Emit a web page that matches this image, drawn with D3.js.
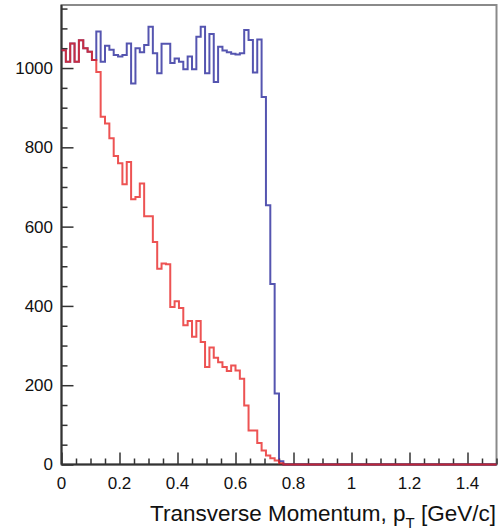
<!DOCTYPE html>
<html>
<head>
<meta charset="utf-8">
<script src="https://cdn.jsdelivr.net/npm/d3@7"></script>
<style>
  html, body { margin: 0; padding: 0; background: #fff; }
  svg { display: block; font-family: "Liberation Sans", Arial, Helvetica, sans-serif; }
</style>
</head>
<body>
<script>
"use strict";
(function(){
    // histogram binning: 100 bins from 0 to 1.5 GeV/c
    const nBins = 100
    const xLow = 0
    const xHigh = 1.5

    // counts per bin
    const blueCounts = [
        1045, 1016, 1062, 1016, 1070, 1050, 1041, 1020, 1092, 1016,
        1056, 1046, 1033, 1029, 1033, 1062, 961, 1050, 1040, 1058,
        1104, 1037, 987, 1061, 1061, 1013, 1024, 1016, 997, 1029,
        997, 1079, 1104, 987, 1086, 965, 1054, 1044, 1040, 1036,
        1034, 1037, 1096, 1071, 989, 1072, 927, 654, 455, 179,
        8, 0, 0, 0, 0, 0, 0, 0, 0, 0,
        0, 0, 0, 0, 0, 0, 0, 0, 0, 0,
        0, 0, 0, 0, 0, 0, 0, 0, 0, 0,
        0, 0, 0, 0, 0, 0, 0, 0, 0, 0,
        0, 0, 0, 0, 0, 0, 0, 0, 0, 0
    ]
    const redCounts = [
        1045, 1016, 1062, 1016, 1070, 1050, 1041, 1020, 990, 877,
        860, 823, 778, 760, 707, 763, 669, 675, 709, 626,
        626, 561, 494, 507, 505, 397, 412, 395, 351, 362,
        322, 362, 309, 246, 295, 269, 258, 246, 236, 250,
        237, 216, 149, 86, 86, 54, 35, 23, 16, 10,
        3, 0, 0, 0, 0, 0, 0, 0, 0, 0,
        0, 0, 0, 0, 0, 0, 0, 0, 0, 0,
        0, 0, 0, 0, 0, 0, 0, 0, 0, 0,
        0, 0, 0, 0, 0, 0, 0, 0, 0, 0,
        0, 0, 0, 0, 0, 0, 0, 0, 0, 0
    ]

    const xTicks = [0, 0.2, 0.4, 0.6, 0.8, 1, 1.2, 1.4]
    const xTickLabels = ["0", "0.2", "0.4", "0.6", "0.8", "1", "1.2", "1.4"]
    const yTicks = [0, 200, 400, 600, 800, 1000]
    const yTickLabels = ["0", "200", "400", "600", "800", "1000"]
    const yMax = 1159

    const measurements = {
        width: 498,
        height: 531,
        left: 61.5,
        right: 496.5,
        top: 5,
        bottom: 464.5
    }

    const svg = d3.select("body").append("svg")
        .attr("width", measurements.width)
        .attr("height", measurements.height)

    const scaleX = d3.scaleLinear()
        .domain([xLow, xHigh])
        .range([measurements.left, measurements.right])
    const scaleY = d3.scaleLinear()
        .domain([0, yMax])
        .range([measurements.bottom, measurements.top])

    // frame
    svg.append("rect")
        .attr("x", measurements.left)
        .attr("y", measurements.top)
        .attr("width", measurements.right - measurements.left)
        .attr("height", measurements.bottom - measurements.top)
        .attr("fill", "none")
        .attr("stroke", "#8a8a8a")
        .attr("stroke-width", 2)

    // axes (ticks point inwards, ROOT style)
    const xAxis = d3.axisBottom(scaleX)
        .tickValues(d3.range(0, 1.5001, 0.05))
        .tickSize(0)
        .tickFormat("")
    const gx = svg.append("g")
        .attr("transform", `translate(0, ${measurements.bottom})`)
        .call(xAxis)
    gx.select(".domain").remove()
    gx.selectAll(".tick line")
        .attr("y2", (d) => xTicks.some(t => Math.abs(t - d) < 1e-6) ? -12 : -6)
        .attr("stroke", "#333")
        .attr("stroke-width", 1.5)

    const yAxis = d3.axisLeft(scaleY)
        .tickValues(d3.range(0, 1151, 50))
        .tickSize(0)
        .tickFormat("")
    const gy = svg.append("g")
        .attr("transform", `translate(${measurements.left}, 0)`)
        .call(yAxis)
    gy.select(".domain").remove()
    gy.selectAll(".tick line")
        .attr("x2", (d) => d % 200 === 0 ? 12 : 6)
        .attr("stroke", "#333")
        .attr("stroke-width", 1.5)

    // axis lines
    svg.append("line")
        .attr("x1", measurements.left).attr("x2", measurements.left)
        .attr("y1", measurements.top).attr("y2", measurements.bottom)
        .attr("stroke", "#333").attr("stroke-width", 2)
    svg.append("line")
        .attr("x1", measurements.left).attr("x2", measurements.right)
        .attr("y1", measurements.bottom).attr("y2", measurements.bottom)
        .attr("stroke", "#333").attr("stroke-width", 2)

    // histograms, drawn over the axes
    const binWidth = (xHigh - xLow) / nBins
    function stepPoints(counts) {
        let pts = counts.map((c, i) => [xLow + i * binWidth, c])
        pts.push([xHigh, counts[counts.length - 1]])
        return pts
    }
    const line = d3.line()
        .x(d => scaleX(d[0]))
        .y(d => scaleY(d[1]))
        .curve(d3.curveStepAfter)

    svg.append("path")
        .attr("d", line(stepPoints(blueCounts)))
        .attr("fill", "none")
        .attr("stroke", "#2a2a9c")
        .attr("stroke-opacity", 0.8)
        .attr("stroke-width", 2)

    svg.append("path")
        .attr("d", line(stepPoints(redCounts)))
        .attr("fill", "none")
        .attr("stroke", "#e82222")
        .attr("stroke-opacity", 0.78)
        .attr("stroke-width", 2)

    // tick labels
    svg.selectAll(".xlab")
        .data(xTicks)
        .enter()
        .append("text")
        .attr("class", "xlab")
        .attr("x", d => scaleX(d))
        .attr("y", 489)
        .attr("text-anchor", "middle")
        .attr("font-size", 17)
        .attr("fill", "#111")
        .text((d, i) => xTickLabels[i])

    svg.selectAll(".ylab")
        .data(yTicks)
        .enter()
        .append("text")
        .attr("class", "ylab")
        .attr("x", 53)
        .attr("y", d => scaleY(d))
        .attr("dy", "0.35em")
        .attr("text-anchor", "end")
        .attr("font-size", 17)
        .attr("fill", "#111")
        .text((d, i) => yTickLabels[i])

    // axis title
    const title = svg.append("text")
        .attr("x", 496)
        .attr("y", 521)
        .attr("text-anchor", "end")
        .attr("font-size", 22.5)
        .attr("fill", "#111")
    title.append("tspan").text("Transverse Momentum, p")
    title.append("tspan").attr("font-size", 15).attr("dy", 7).text("T")
    title.append("tspan").attr("dy", -7).text(" [GeV/c]")
})()
</script>
</body>
</html>
